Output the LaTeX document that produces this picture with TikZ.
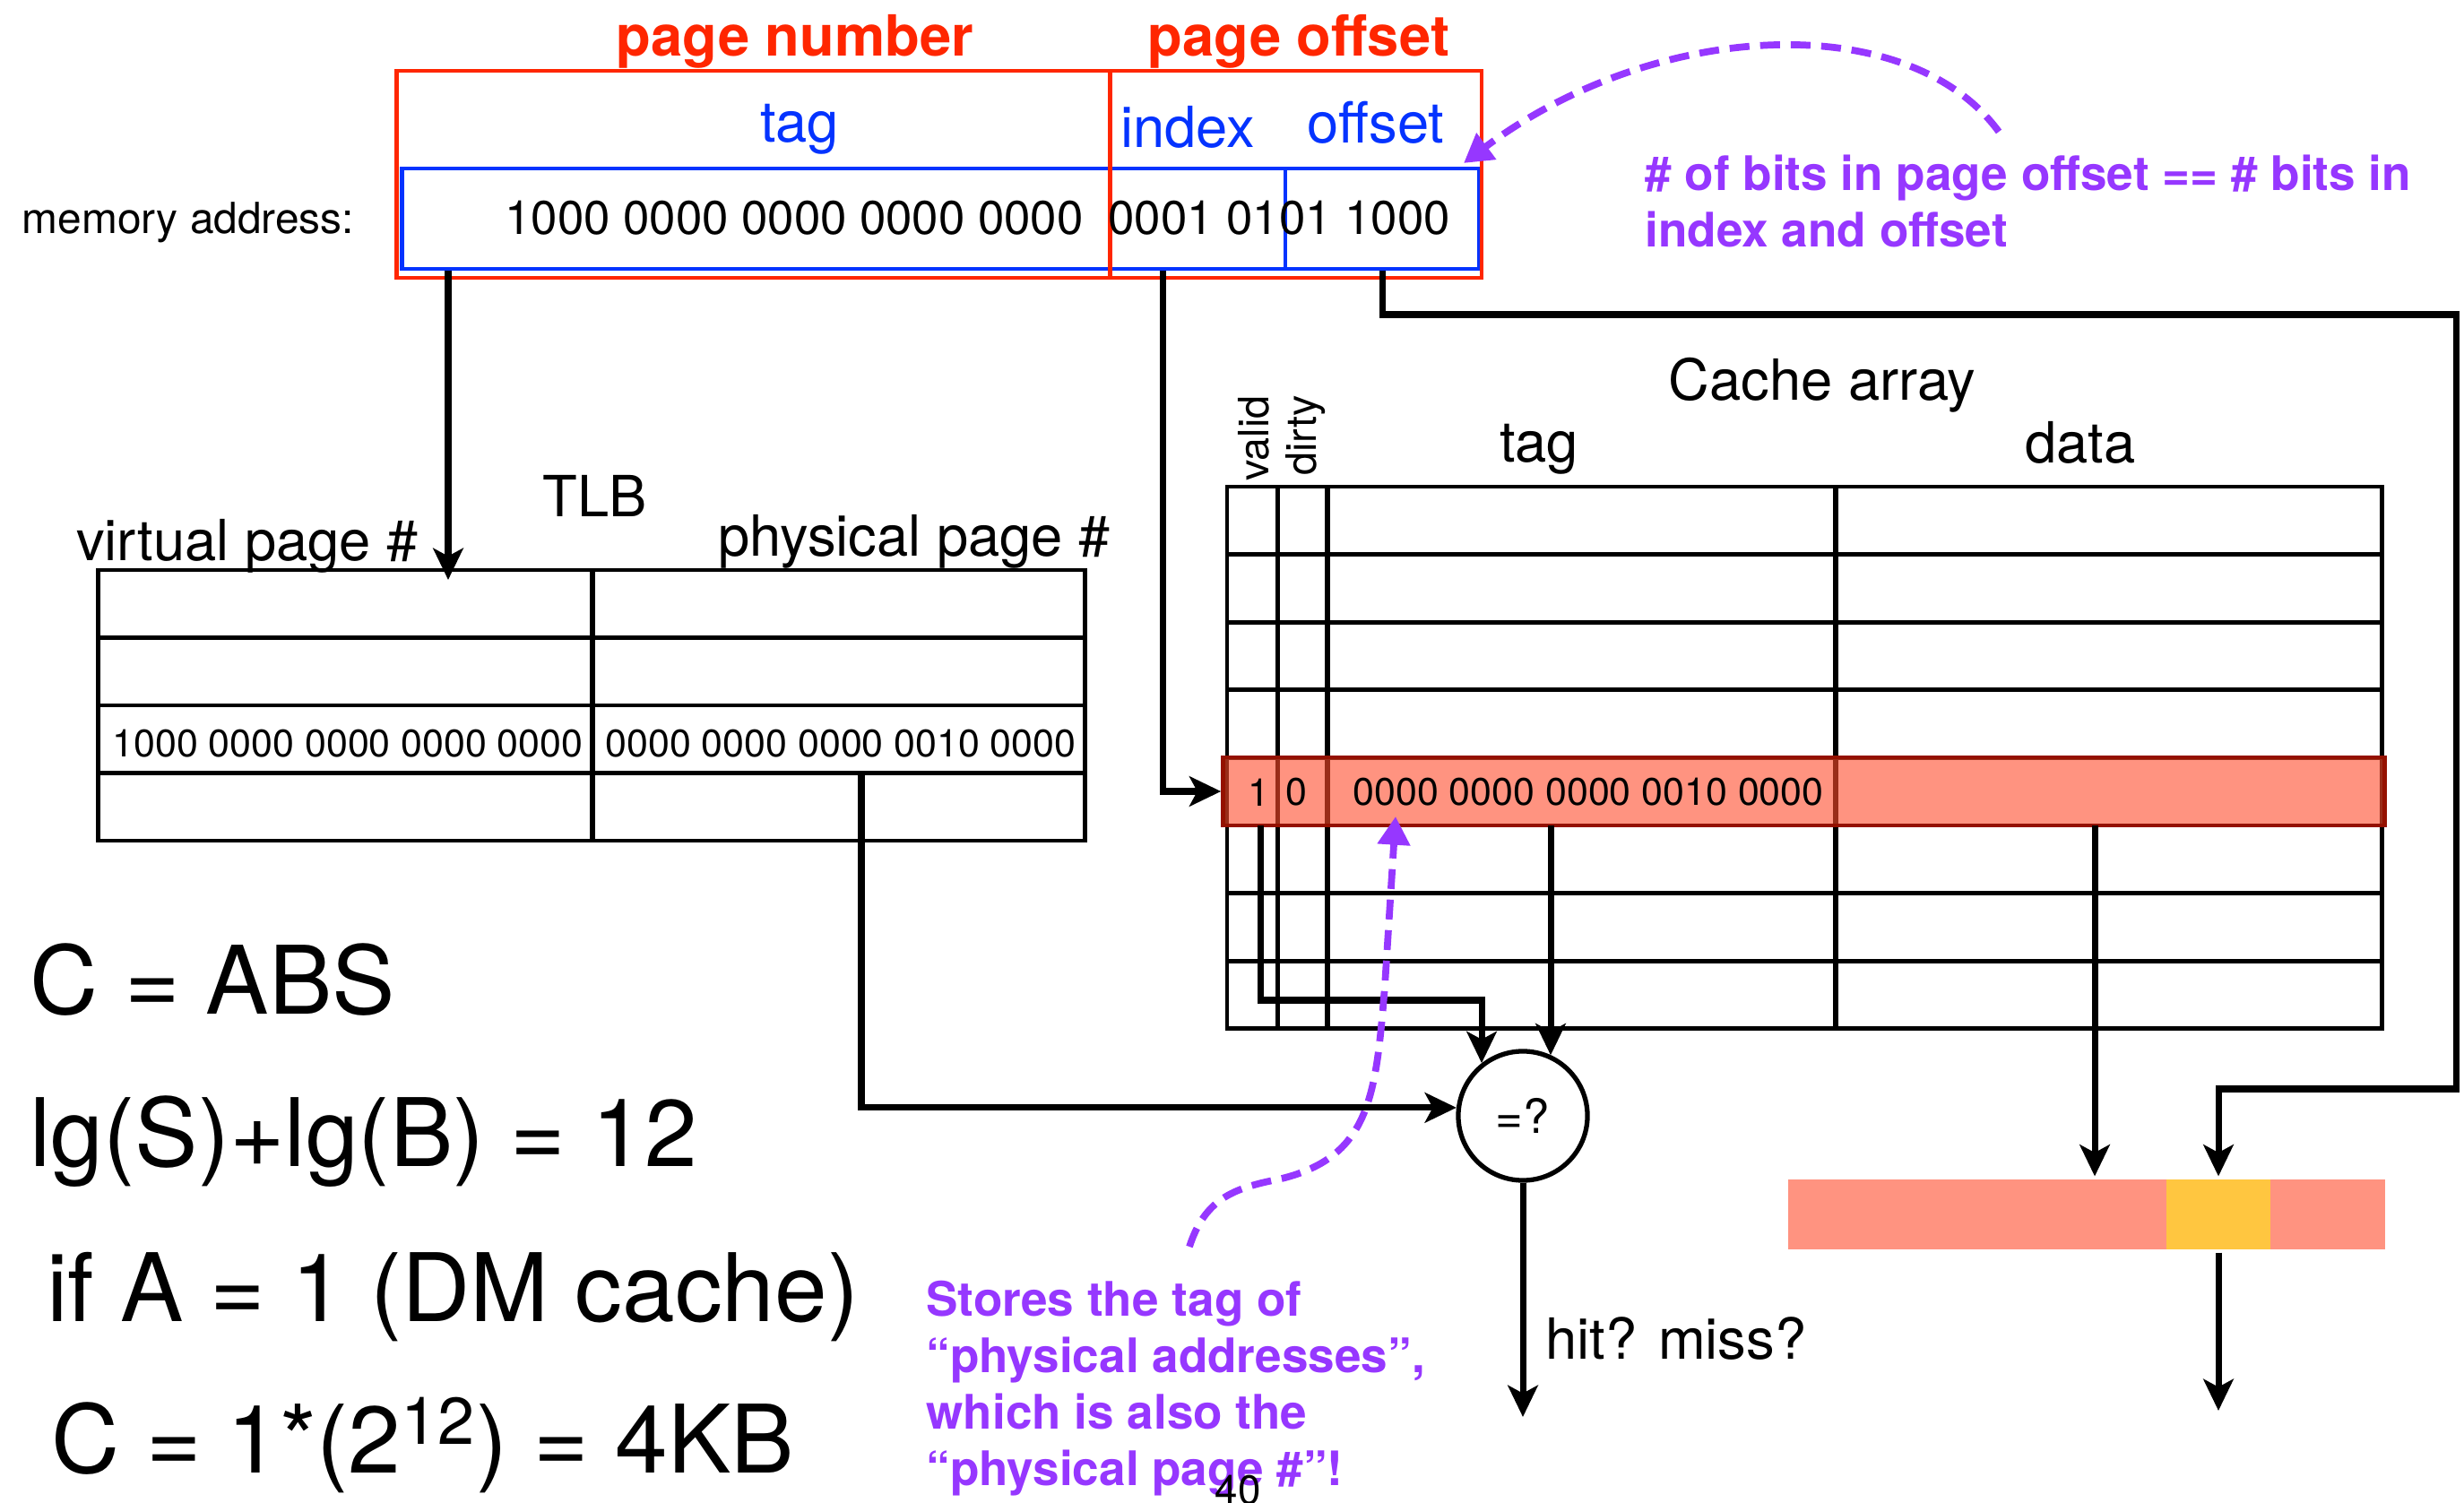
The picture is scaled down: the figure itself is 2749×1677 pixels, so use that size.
\documentclass[tikz,border=0pt]{standalone}
\usepackage{fontspec}
\setmainfont{TeX Gyre Heros}
\usepackage{tikz}
\usetikzlibrary{arrows.meta,positioning,calc}
\definecolor{keyred}{RGB}{255,38,0}
\definecolor{keyblue}{RGB}{4,51,255}
\definecolor{notepurple}{RGB}{150,55,255}
\definecolor{rowsalmon}{RGB}{255,147,128}
\definecolor{rowtint}{RGB}{255,75,43}
\definecolor{rowborder}{RGB}{148,17,0}
\definecolor{wordyellow}{RGB}{255,198,64}

\begin{document}
\begin{tikzpicture}[x=0.01cm,y=-0.01cm,line width=2pt,
  >={Stealth[length=10pt,width=9.5pt,inset=2.5pt]},
  red field/.style={draw=keyred,line width=1.3pt,inner sep=0pt,minimum height=2.31cm},
  blue field/.style={draw=keyblue,line width=1.3pt,inner sep=0pt,minimum height=1.12cm},
  cell node/.style={draw,line width=1.4pt,inner sep=0pt},
  tlb cell/.style={cell node,minimum height=0.755cm},
  cache cell/.style={cell node,minimum height=0.756cm},
  big label/.style={inner sep=0pt,anchor=base,font=\fontsize{18}{21.6}\selectfont},
  cell text/.style={inner sep=0pt,font=\fontsize{12.2}{14.6}\selectfont},
  formula/.style={inner sep=0pt,anchor=base west,font=\fontsize{30}{36}\selectfont},
  note text/.style={inner sep=0pt,anchor=north west,align=left,text=notepurple,
    font=\bfseries\fontsize{15.1}{17.9}\selectfont},
  link/.style={->},
  hint/.style={-{Triangle[length=9pt,width=10pt]},draw=notepurple,line width=2.2pt,
    dash pattern=on 6.3pt off 3.4pt}]
				\useasboundingbox (0,0) rectangle (2749,1677);
				% memory address
					\node[blue field,minimum width=7.89cm] (tagfield) at (843.5,244) {};
					\node[blue field,minimum width=1.96cm] (indexfield) at (1336,244) {};
					\node[blue field,minimum width=2.16cm] (offsetfield) at (1542,244) {};
					\node[red field,minimum width=7.95cm] (pagenum) at (840.5,194.5) {};
					\node[red field,minimum width=4.15cm] (pageoff) at (1445.5,194.5) {};
					\node[big label,text=keyred,font=\bfseries\fontsize{18}{21.6}\selectfont] (pagenumlbl) at (887,63) {page number};
					\node[big label,text=keyred,font=\bfseries\fontsize{18}{21.6}\selectfont] (pageofflbl) at (1449,63) {page offset};
					\node[big label,text=keyblue] (taglbl) at (892,159) {tag};
					\node[big label,text=keyblue] (indexlbl) at (1325,165) {index};
					\node[big label,text=keyblue] (offsetlbl) at (1535,160) {offset};
					\node[inner sep=0pt,anchor=base,font=\fontsize{13.6}{16}\selectfont] (addrlbl) at (210,261) {memory address:};
					\node[inner sep=0pt,anchor=base,font=\fontsize{15}{18}\selectfont] (tagbits) at (886,262) {1000 0000 0000 0000 0000};
					\node[inner sep=0pt,anchor=base,font=\fontsize{15}{18}\selectfont] (offbits) at (1427,262) {0001 0101 1000};
				% TLB
					\foreach \r in {0,...,3}{
						\node[tlb cell,minimum width=5.51cm] (tlbv\r) at (385.5,{636+75.5*(\r+0.5)}) {};
						\node[tlb cell,minimum width=5.49cm] (tlbp\r) at (935.5,{636+75.5*(\r+0.5)}) {};
					}
					\node[cell text] (vpnval) at (388,830) {1000 0000 0000 0000 0000};
					\node[cell text] (ppnval) at (938,830) {0000 0000 0000 0010 0000};
					\node[big label] (tlblbl) at (664,577) {TLB};
					\node[big label] (vpnlbl) at (276,626) {virtual page \#};
					\node[big label] (ppnlbl) at (1020,621) {physical page \#};
				% cache array
					\foreach \r in {0,...,7}{
						\node[cache cell,minimum width=0.56cm] (valid\r) at (1397,{543+75.6*(\r+0.5)}) {};
						\node[cache cell,minimum width=0.56cm] (dirty\r) at (1453,{543+75.6*(\r+0.5)}) {};
						\node[cache cell,minimum width=5.67cm] (ctag\r) at (1764.5,{543+75.6*(\r+0.5)}) {};
						\node[cache cell,minimum width=6.09cm] (cdata\r) at (2352.5,{543+75.6*(\r+0.5)}) {};
					}
					\node[draw=rowborder,fill=rowtint,fill opacity=0.6,draw opacity=1,line width=1.4pt,
						inner sep=0pt,minimum width=12.95cm,minimum height=0.76cm] (hitrow) at (2012.5,883) {};
					\node[cell text] (hitvalid) at (1404,884) {1};
					\node[cell text] (hitdirty) at (1446,884) {0};
					\node[cell text] (hittag) at (1772,884) {0000 0000 0000 0010 0000};
					\node[big label] (cachelbl) at (2033,447) {Cache array};
					\node[big label] (ctaglbl) at (1717,516) {tag};
					\node[big label] (cdatalbl) at (2321,517) {data};
					\node[inner sep=0pt,rotate=90,font=\fontsize{13.3}{16}\selectfont] (validlbl) at (1399,489) {valid};
					\node[inner sep=0pt,rotate=90,font=\fontsize{13.3}{16}\selectfont] (dirtylbl) at (1457,486) {dirty};
				% compare and select
					\node[circle,draw,line width=1.5pt,minimum size=1.44cm,inner sep=0pt,
						font=\fontsize{15}{17}\selectfont] (cmp) at (1699,1245) {=?};
					\node[big label] (hitlbl) at (1870,1516) {hit? miss?};
					\node[fill=rowsalmon,inner sep=0pt,minimum width=6.66cm,minimum height=0.78cm] (wordbar) at (2328,1355) {};
					\node[fill=wordyellow,inner sep=0pt,minimum width=1.16cm,minimum height=0.78cm] (word) at (2475,1355) {};
				% notes
					\node[note text] (bitsnote) at (1832,169) {\# of bits in page offset == \# bits in\\index and offset};
					\node[note text] (storenote) at (1030,1426) {Stores the tag of\\``physical addresses'',\\which is also the\\``physical page \#''!};
					\node[formula] (capeq) at (30,1131) {C = ABS};
					\node[formula] (lgeq) at (30,1301) {lg(S)+lg(B) = 12};
					\node[formula] (dmeq) at (49,1474) {if A = 1 (DM cache)};
					\node[formula] (kbeq) at (54,1643) {C = 1*(2\textsuperscript{12}) = 4KB};
					\node[inner sep=0pt,anchor=base,font=\fontsize{13}{15}\selectfont] (slidenum) at (1381,1678) {40};
				% free ends
					\coordinate (vpnin) at (500,647);
					\coordinate (indextap) at (1297,300);
					\coordinate (railtop) at (2740,351);
					\coordinate (railbot) at (2740,1215);
					\coordinate (ppnout) at (961,862);
					\coordinate (validout) at (1406,921);
					\coordinate (validknee) at (1406,1116);
					\coordinate (tagout) at (1730,921);
					\coordinate (dataout) at (2337,921);
					\coordinate (hitend) at (1699,1581);
					\coordinate (wordend) at (2475,1574);
					\coordinate (bitsfrom) at (2230,147);
					\coordinate (bitsto) at (1633,182);
					\coordinate (storefrom) at (1327,1391);
					\coordinate (storeto) at (1557,911);
				% wires
					\draw[link] (vpnin |- tagfield.south) -- (vpnin);
					\draw[link] (indextap |- indexfield.south) |- (hitrow.west);
					\draw[link] (offsetfield.south) |- (railtop) -- (railbot) -| (word.north);
					\draw[link] (ppnout) |- (cmp.173);
					\draw[link] (validout) -- (validknee) -| (cmp.128);
					\draw[link] (tagout) -- (tagout |- cmp.65);
					\draw[link] (dataout) -- (dataout |- wordbar.north);
					\draw[link] (cmp.south) -- (hitend);
					\draw[link] (word.south) -- (wordend);
					\draw[hint] (bitsfrom) .. controls (2130,10) and (1850,20) .. (bitsto);
					\draw[hint] (storefrom) .. controls (1345,1335) and (1380,1325) .. (1430,1315)
						.. controls (1530,1290) and (1535,1220) .. (1545,1100) -- (storeto);
\end{tikzpicture}
\end{document}
